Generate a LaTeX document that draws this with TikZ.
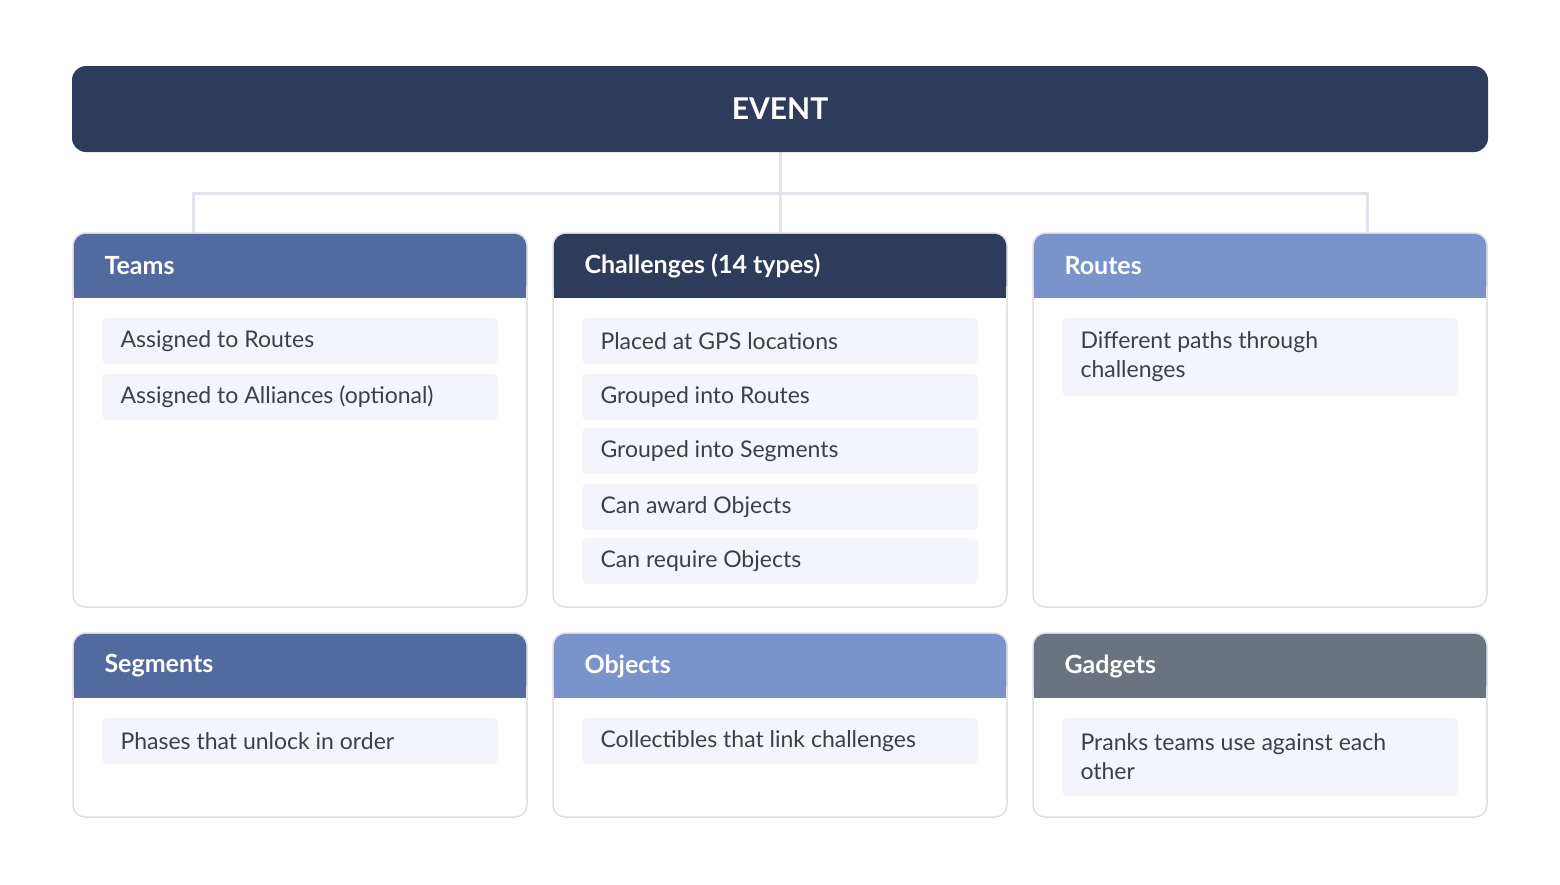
\documentclass[tikz,border=0pt]{standalone}
\usepackage{fontspec}
\setmainfont{Lato}
\begin{document}
\definecolor{navy}{HTML}{2E3C5B}
\definecolor{midb}{HTML}{536AA0}
\definecolor{lightb}{HTML}{7B93CB}
\definecolor{grayh}{HTML}{6B7280}
\definecolor{line}{HTML}{E1E4EA}
\definecolor{border}{HTML}{DDE0E6}
\definecolor{item}{HTML}{F3F5FA}
\definecolor{txt}{HTML}{3A3F4A}
\begin{tikzpicture}[x=1pt,y=-1pt,
  itm/.style={fill=item,rounded corners=6pt},
  itxt/.style={anchor=west,text=txt,font=\fontsize{23}{29}\selectfont,align=left},
  htxt/.style={anchor=west,text=white,font=\fontsize{25}{30}\selectfont\bfseries}]
\useasboundingbox[fill=white] (0,0) rectangle (1560,884);
% connectors
\coordinate (c0) at (780,152);
\coordinate (cj) at (780,193);
\coordinate (cl) at (193,193);
\coordinate (cr) at (1367,193);
\coordinate (tl) at (193,233);
\coordinate (tc) at (780,233);
\coordinate (tr) at (1367,233);
\draw[line,line width=3pt] (c0)--(tc);
\draw[line,line width=3pt] (tl)--(cl)--(cr)--(tr);
% event
\node[fill=navy,rounded corners=14pt,minimum width=1416pt,minimum height=86pt,text=white,font=\fontsize{30}{36}\selectfont\bfseries] (ev) at (780,109) {EVENT};
% cards
\newcommand\card[6]{% x y h color name title
  \draw[border,line width=1.5pt,fill=white,rounded corners=12pt] (#1,#2) rectangle ++(454,#3);
  \fill[#4,rounded corners=12pt] (#1+0.75,#2+0.75) rectangle ++(452.5,64);
  \fill[#4] (#1+0.75,#2+30) rectangle ++(452.5,35);
  \node[htxt] (#5) at (#1+28,#2+33) {#6};}
\newcommand\itemb[5]{% x y h name text
  \fill[itm] (#1+29,#2) rectangle ++(396,#3);
  \node[itxt] (#4) at (#1+44,#2+#3/2) {#5};}
\card{73}{233}{374}{midb}{teams}{Teams}
\card{553}{233}{374}{navy}{chal}{Challenges (14 types)}
\card{1033}{233}{374}{lightb}{routes}{Routes}
\card{73}{633}{184}{midb}{seg}{Segments}
\card{553}{633}{184}{lightb}{obj}{Objects}
\card{1033}{633}{184}{grayh}{gad}{Gadgets}
\itemb{73}{318}{46}{t1}{Assigned to Routes}
\itemb{73}{374}{46}{t2}{Assigned to Alliances (optional)}
\itemb{553}{318}{46}{c1}{Placed at GPS locations}
\itemb{553}{374}{46}{c2}{Grouped into Routes}
\itemb{553}{428}{46}{c3}{Grouped into Segments}
\itemb{553}{484}{46}{c4}{Can award Objects}
\itemb{553}{538}{46}{c5}{Can require Objects}
\itemb{1033}{318}{78}{r1}{Different paths through\\challenges}
\itemb{73}{718}{46}{s1}{Phases that unlock in order}
\itemb{553}{718}{46}{o1}{Collectibles that link challenges}
\itemb{1033}{718}{78}{g1}{Pranks teams use against each\\other}
\end{tikzpicture}
\end{document}
